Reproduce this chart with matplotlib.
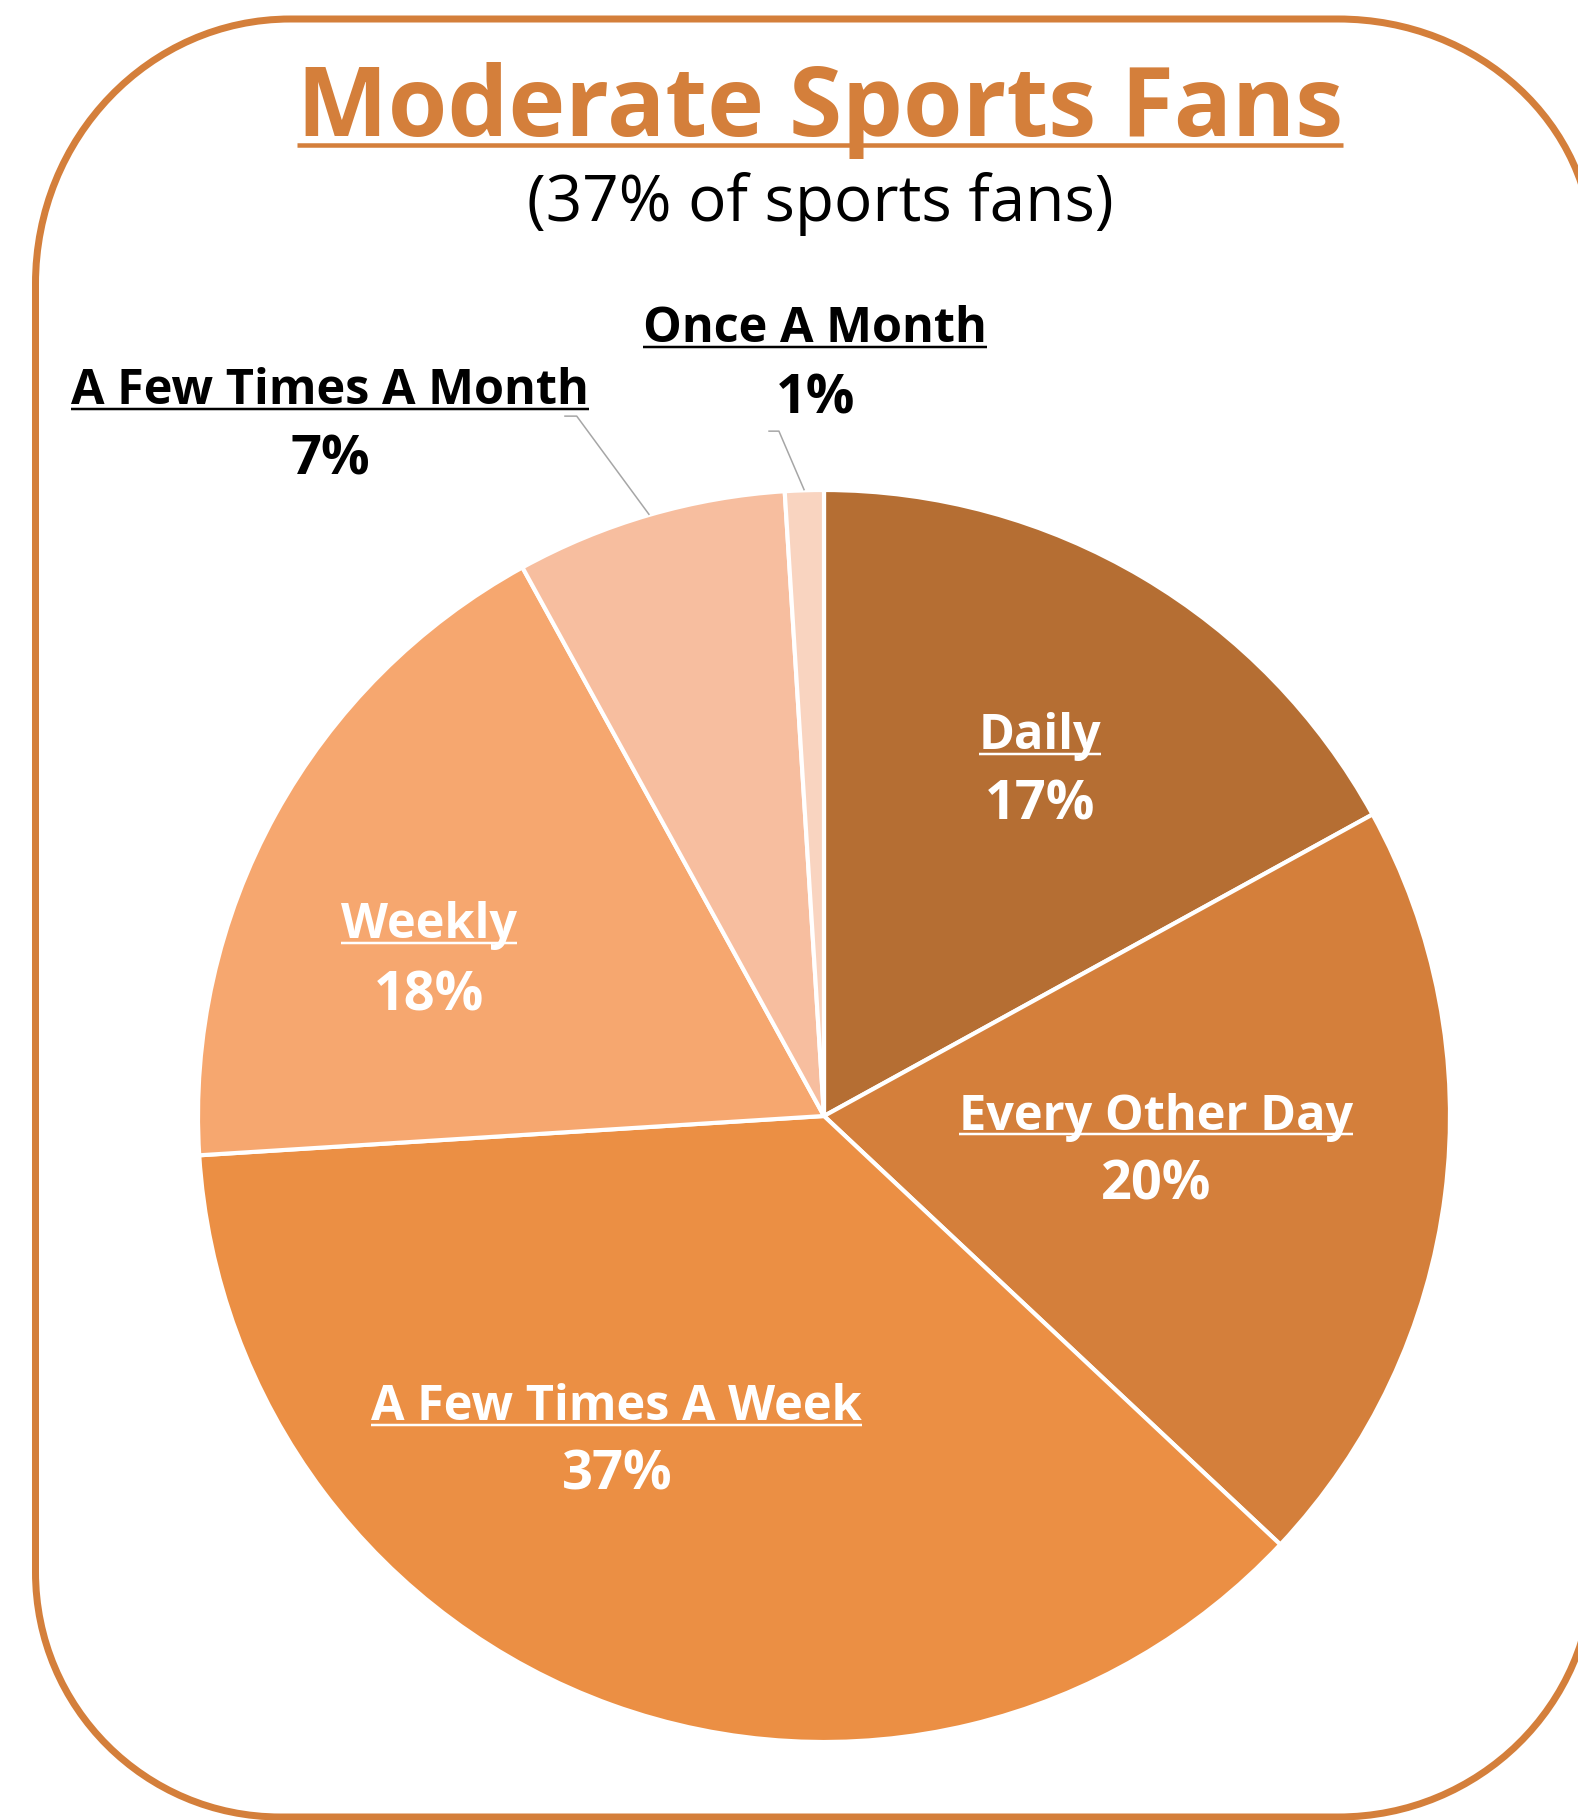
import numpy as np
import matplotlib
matplotlib.use("Agg")
import matplotlib.pyplot as plt
from matplotlib.patches import PathPatch
from matplotlib.path import Path
from matplotlib.lines import Line2D
from matplotlib.transforms import IdentityTransform

# ---- data ----
categories = ["Daily", "Every Other Day", "A Few Times A Week", "Weekly",
              "A Few Times A Month", "Once A Month"]
values = [17, 20, 37, 18, 7, 1]
pct_labels = ["17%", "20%", "37%", "18%", "7%", "1%"]
colors = ["#B56E33", "#D47F3B", "#EB8F44", "#F6A76F", "#F7BE9F", "#F9D4C0"]
title = "Moderate Sports Fans"
subtitle = "(37% of sports fans)"

# label placement (pie data coords, baseline of category / percent line)
label_x = [0.345, 0.530, -0.331, -0.631, -0.789, -0.014]
label_y = [0.586, -0.022, -0.486, 0.284, 1.137, 1.236]
pct_y = [0.473, -0.134, -0.597, 0.169, 1.024, 1.123]
inside = [True, True, True, True, False, False]
# leader elbows for outside labels (pie data coords)
elbow = {4: (-0.415, -0.395, 1.118), 5: (-0.089, -0.072, 1.094)}

W, H, DPI = 1578, 1820, 100
ORANGE = "#D47F3B"
FONT = ["Open Sans", "DejaVu Sans"]

fig = plt.figure(figsize=(W / DPI, H / DPI), dpi=DPI)
fig.patch.set_facecolor("white")

# background axes in pixel coordinates
bg = fig.add_axes([0, 0, 1, 1])
bg.set_xlim(0, W)
bg.set_ylim(H, 0)
bg.axis("off")


def rounded_rect(L, T, Rr, B, tl, tr, br, bl):
    k = 0.5523
    verts, codes = [], []
    (tlx, tly), (trx, try_), (brx, bry), (blx, bly) = tl, tr, br, bl
    verts.append((L + tlx, T)); codes.append(Path.MOVETO)
    verts.append((Rr - trx, T)); codes.append(Path.LINETO)
    verts += [(Rr - trx + k * trx, T), (Rr, T + try_ - k * try_), (Rr, T + try_)]
    codes += [Path.CURVE4] * 3
    verts.append((Rr, B - bry)); codes.append(Path.LINETO)
    verts += [(Rr, B - bry + k * bry), (Rr - brx + k * brx, B), (Rr - brx, B)]
    codes += [Path.CURVE4] * 3
    verts.append((L + blx, B)); codes.append(Path.LINETO)
    verts += [(L + blx - k * blx, B), (L, B - bly + k * bly), (L, B - bly)]
    codes += [Path.CURVE4] * 3
    verts.append((L, T + tly)); codes.append(Path.LINETO)
    verts += [(L, T + tly - k * tly), (L + tlx - k * tlx, T), (L + tlx, T)]
    codes += [Path.CURVE4] * 3
    verts.append((L + tlx, T)); codes.append(Path.CLOSEPOLY)
    return Path(verts, codes)


# white-filled so the stroked outline is not clipped oddly at the canvas edge
border = PathPatch(rounded_rect(35.5, 19, 1593, 1817,
                                (255, 265), (255, 235), (255, 250), (245, 245)),
                   facecolor="white", edgecolor=ORANGE, linewidth=7 * 0.72,
                   clip_on=False, zorder=0)
bg.add_patch(border)

t_title = bg.text(820, 136, title, ha="center", va="baseline", fontsize=69.3,
                  fontweight="bold", color=ORANGE, family=FONT)
bg.text(820, 221, subtitle, ha="center", va="baseline", fontsize=46,
        color="black", family=FONT)

# pie axes
cx, cy, R = 824, 1116, 626
ax = fig.add_axes([(cx - R) / W, (H - cy - R) / H, 2 * R / W, 2 * R / H])
wedges, _ = ax.pie(values, colors=colors, startangle=90, counterclock=False,
                   radius=1,
                   wedgeprops=dict(edgecolor="white", linewidth=3))
ax.set_xlim(-1, 1)
ax.set_ylim(-1, 1)
ax.set_aspect("equal")
ax.axis("off")

cat_texts = []
for i, cat in enumerate(categories):
    col = "white" if inside[i] else "black"
    t = ax.text(label_x[i], label_y[i], cat, ha="center", va="baseline",
                fontsize=35, fontweight="bold", color=col, family=FONT)
    ax.text(label_x[i], pct_y[i], pct_labels[i], ha="center", va="baseline",
            fontsize=39, fontweight="bold", color=col, family=FONT)
    cat_texts.append((t, col))

# leader lines for outside labels, ending at wedge mid-angle on the rim
cum = np.cumsum([0] + values[:-1])
total = sum(values)
for i, (xa, xb, ye) in elbow.items():
    mid = (cum[i] + values[i] / 2) / total * 360.0
    ang = np.deg2rad(90 - mid)
    ex, ey = np.cos(ang), np.sin(ang)
    ax.plot([xa, xb, ex], [ye, ye, ey], color="#A6A6A6", lw=1.1,
            solid_capstyle="butt", clip_on=False)

# underlines
renderer = fig.canvas.get_renderer()


def underline(txt, offset_px, lw_px, color):
    bb = txt.get_window_extent(renderer)
    xb, yb = txt.get_transform().transform(txt.get_position())
    y = yb - offset_px
    fig.add_artist(Line2D([bb.x0, bb.x1], [y, y], transform=IdentityTransform(),
                          color=color, lw=lw_px * 0.72, solid_capstyle="butt"))


underline(t_title, 9, 4.5, ORANGE)
for t, col in cat_texts:
    underline(t, 4.5, 2.5, col)

fig.savefig("out.png", dpi=DPI, facecolor="white")
